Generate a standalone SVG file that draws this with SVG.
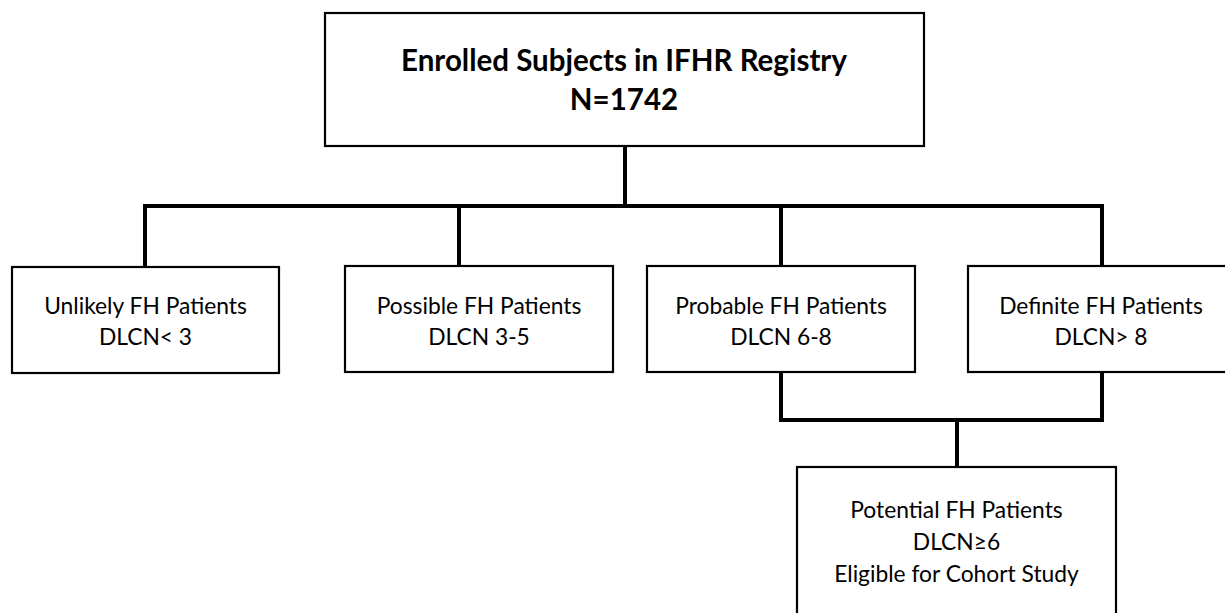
<svg xmlns="http://www.w3.org/2000/svg" width="1225" height="613" viewBox="0 0 1225 613">
<style>
.box{fill:#fff;stroke:#000;stroke-width:2.2}
.conn{fill:none;stroke:#000;stroke-width:4;stroke-linecap:square}
.t{font-family:Lato,"Liberation Sans",sans-serif;font-size:22.8px;fill:#000;text-anchor:middle}
.h{font-family:Lato,"Liberation Sans",sans-serif;font-size:29.5px;font-weight:bold;fill:#000;text-anchor:middle}
</style>
<rect width="1225" height="613" fill="#fff"/>
<g id="connectors">
<path class="conn" d="M625 147 V206 M145 266 V206 H1102 V266 M459 206 V266 M781 206 V266"/>
<path class="conn" d="M781 373 V420 H1102 V373 M957 420 V467"/>
</g>
<g id="root">
<rect class="box" x="325" y="13" width="599" height="133"/>
<text class="h" x="624" y="71">Enrolled Subjects in IFHR Registry</text>
<text class="h" x="624" y="110">N=1742</text>
</g>
<g id="unlikely">
<rect class="box" x="12" y="267" width="267" height="106"/>
<text class="t" x="145.5" y="314">Unlikely FH Patients</text>
<text class="t" x="145.5" y="345">DLCN&lt; 3</text>
</g>
<g id="possible">
<rect class="box" x="345" y="266" width="268" height="106"/>
<text class="t" x="479" y="314">Possible FH Patients</text>
<text class="t" x="479" y="345">DLCN 3-5</text>
</g>
<g id="probable">
<rect class="box" x="647" y="266" width="268" height="106"/>
<text class="t" x="781" y="314">Probable FH Patients</text>
<text class="t" x="781" y="345">DLCN 6-8</text>
</g>
<g id="definite">
<rect class="box" x="968" y="266" width="268" height="106"/>
<text class="t" x="1101" y="314">Definite FH Patients</text>
<text class="t" x="1101" y="345">DLCN&gt; 8</text>
</g>
<g id="potential">
<rect class="box" x="797" y="467" width="319" height="160"/>
<text class="t" x="956.5" y="518">Potential FH Patients</text>
<text class="t" x="956.5" y="550">DLCN≥6</text>
<text class="t" x="956.5" y="582">Eligible for Cohort Study</text>
</g>
</svg>
